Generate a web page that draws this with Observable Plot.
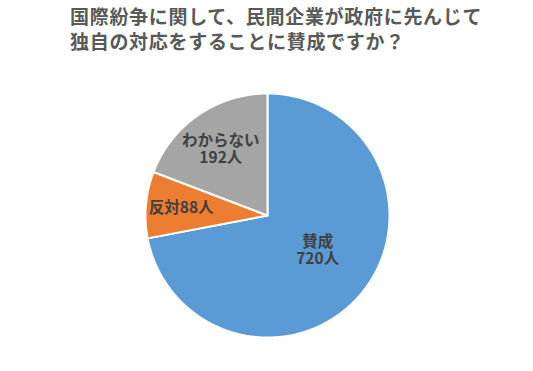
<!DOCTYPE html>
<html><head><meta charset="utf-8">
<script src="https://cdn.jsdelivr.net/npm/d3@7"></script>
<script src="https://cdn.jsdelivr.net/npm/@observablehq/plot@0.6"></script>
<style>
body{margin:0;background:#fff;font-family:"Noto Sans CJK JP",sans-serif;}
#title{position:absolute;left:70px;top:3px;font-size:19px;font-weight:bold;color:#595959;line-height:25px;letter-spacing:0.7px;}
#chart{position:absolute;left:0;top:60px;}
</style></head><body>
<div id="title">国際紛争に関して、民間企業が政府に先んじて<br>独自の対応をすることに賛成ですか？</div>
<div id="chart"></div>
<script>
const categories = ["賛成", "反対", "わからない"];
const values = [720, 88, 192];
const labels = ["賛成\n720人", "反対88人", "わからない\n192人"];
const colors = ["#5B9BD5", "#ED7D31", "#A5A5A5"];

const cx = 267, cy = 155, R = 122;
const labelR = [0.47, 0.71, 0.66];
const labelDx = [6, 0, -1];
const labelDy = [-2, 0, 0];

const arcs = d3.pie().sort(null).value(d => d)(values);
const polys = [];
arcs.forEach((a, i) => {
  polys.push({cat: categories[i], x: 0, y: 0});
  const n = Math.max(2, Math.ceil((a.endAngle - a.startAngle) / 0.01));
  for (let k = 0; k <= n; k++) {
    const t = a.startAngle + (a.endAngle - a.startAngle) * k / n;
    polys.push({cat: categories[i], x: Math.sin(t), y: Math.cos(t)});
  }
  polys.push({cat: categories[i], x: 0, y: 0});
});
const labelMarks = arcs.map((a, i) => {
  const m = (a.startAngle + a.endAngle) / 2;
  return Plot.text([{label: labels[i], x: Math.sin(m) * labelR[i], y: Math.cos(m) * labelR[i]}],
    {x: "x", y: "y", text: "label", dx: labelDx[i], dy: labelDy[i], fill: "#404040", fontSize: 15.5, fontWeight: "bold", lineHeight: 1.12, fontFamily: "Noto Sans CJK JP"});
});

const plot = Plot.plot({
  width: 533, height: 311,
  x: {domain: [-1, 1], range: [cx - R, cx + R], axis: null},
  y: {domain: [-1, 1], range: [cy + R, cy - R], axis: null},
  color: {domain: categories, range: colors},
  marks: [
    Plot.line(polys, {x: "x", y: "y", z: "cat", fill: "cat", stroke: "white", strokeWidth: 2, strokeLinejoin: "miter", curve: "linear"}),
    ...labelMarks
  ],
  style: {fontFamily: "Noto Sans CJK JP", background: "white"}
});
document.getElementById("chart").appendChild(plot);
</script>
</body></html>
